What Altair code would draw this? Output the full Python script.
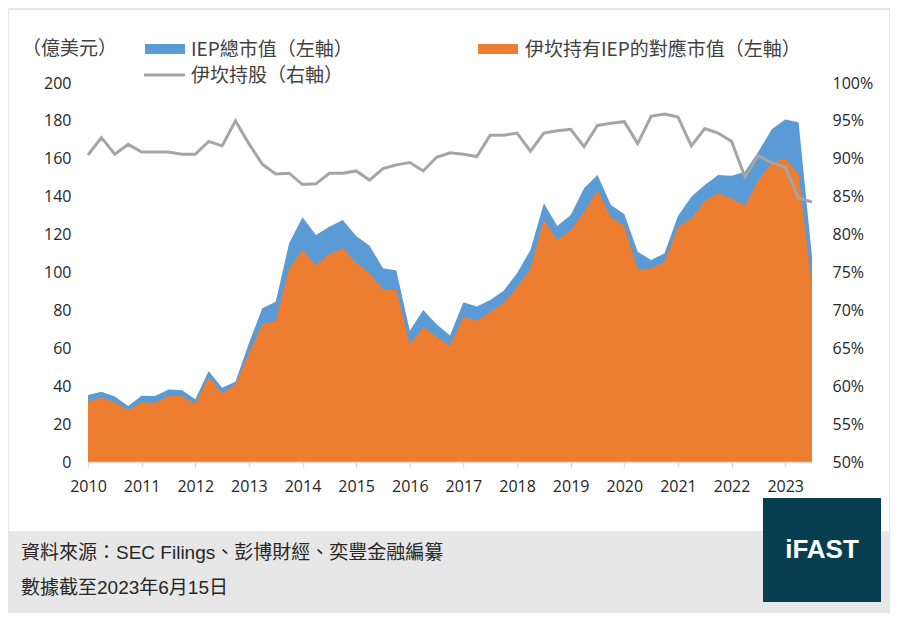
import altair as alt
import pandas as pd

# IEP total market cap (US$ bn, left axis)
total = [35.4, 37.1, 34.5, 29.6, 35.0, 34.8, 38.3, 38.0, 33.1, 48.0,
         39.2, 42.4, 62.6, 81.1, 84.6, 115.4, 129.1, 119.8, 124.2, 127.7,
         119.3, 114.1, 102.2, 101.0, 69.3, 80.2, 72.7, 66.8, 84.3, 82.0,
         85.5, 90.4, 99.6, 111.9, 136.5, 124.5, 130.3, 144.4, 151.5, 135.6,
         130.9, 111.0, 106.6, 110.1, 129.8, 140.0, 146.2, 151.5, 151.1, 153.2,
         163.7, 175.6, 180.8, 179.3, 108.3]
# Icahn's share of IEP market cap (US$ bn, left axis)
held = [31.8, 34.1, 31.5, 27.4, 31.5, 31.3, 34.8, 34.8, 30.6, 45.0,
        36.2, 41.2, 57.4, 72.7, 74.6, 102.2, 111.9, 104.0, 109.8, 112.8,
        105.2, 99.6, 91.1, 90.8, 62.1, 71.4, 66.1, 61.5, 76.7, 74.6,
        79.3, 84.1, 92.2, 102.2, 127.7, 117.2, 122.4, 132.1, 143.5, 129.1,
        124.7, 101.7, 102.2, 105.7, 124.2, 128.6, 137.9, 141.8, 139.2, 135.3,
        148.8, 157.9, 160.3, 151.8, 92.5]
# Icahn ownership (%, right axis)
pct = [90.5, 92.8, 90.6, 91.9, 90.9, 90.9, 90.9, 90.6, 90.6, 92.3,
       91.7, 95.0, 92.0, 89.3, 88.0, 88.1, 86.6, 86.7, 88.1, 88.1,
       88.4, 87.2, 88.7, 89.2, 89.5, 88.4, 90.2, 90.8, 90.6, 90.3,
       93.1, 93.1, 93.4, 91.0, 93.4, 93.7, 93.9, 91.6, 94.4, 94.7,
       94.9, 92.0, 95.6, 95.9, 95.5, 91.7, 94.0, 93.4, 92.3, 87.6,
       90.4, 89.5, 88.9, 84.8, 84.3]
years = list(range(2010, 2024))
left_ticks = list(range(0, 201, 20))
right_ticks = [0.50, 0.55, 0.60, 0.65, 0.70, 0.75, 0.80, 0.85, 0.90, 0.95, 1.00]

t = [2010 + i / 4 for i in range(len(total))]
df = pd.DataFrame({"t": t, "total": total, "held": held,
                   "pct": [p / 100 for p in pct]})

BLUE = "#5b9bd5"
ORANGE = "#ed7d31"
GRAY = "#a5a5a5"
LBL = "#262626"
FONT = "Open Sans"
CJK = "Noto Sans CJK TC"
MIX = "Liberation Sans, Noto Sans CJK TC"

W, H = 724, 379

xenc = alt.X("t:Q",
             scale=alt.Scale(domain=[2010, 2023.5], nice=False, zero=False),
             axis=alt.Axis(values=years, format="d", title=None, grid=False,
                           domainColor="#d9d9d9", domainWidth=1.5,
                           tickColor="#d9d9d9", tickSize=5, tickWidth=1.5,
                           labelPadding=11, labelFlush=False, labelOverlap=False,
                           labelFont=FONT, labelFontSize=16, labelColor=LBL,
                           zindex=1))

yleft = alt.Scale(domain=[0, 200], nice=False)
leftaxis = alt.Axis(values=left_ticks, title=None, grid=False, domain=False,
                    ticks=False, labelPadding=17, labelFont=FONT,
                    labelFontSize=16, labelColor=LBL)

base = alt.Chart(df)
blue = base.mark_area(color=BLUE, opacity=1).encode(
    x=xenc, y=alt.Y("total:Q", scale=yleft, axis=leftaxis))
orange = base.mark_area(color=ORANGE, opacity=1).encode(
    x=xenc, y=alt.Y("held:Q", scale=yleft, axis=leftaxis))
areas = alt.layer(blue, orange)

line = base.mark_line(color=GRAY, strokeWidth=3).encode(
    x=xenc,
    y=alt.Y("pct:Q", scale=alt.Scale(domain=[0.5, 1.0], nice=False, zero=False),
            axis=alt.Axis(orient="right", values=right_ticks, format=".0%",
                          title=None, grid=False, domain=False, ticks=False,
                          labelPadding=20, labelFont=FONT, labelFontSize=16,
                          labelColor=LBL)))

dummy = alt.Chart(alt.Data(values=[{"a": 1}]))


def rect(x, x2, y, y2, **kw):
    return dummy.mark_rect(**kw).encode(x=alt.value(x), x2=alt.value(x2),
                                        y=alt.value(y), y2=alt.value(y2))


def text(x, y, s, **kw):
    return dummy.mark_text(**kw).encode(x=alt.value(x), y=alt.value(y),
                                        text=alt.value(s))


panel = rect(-80, 802, -74, 530, fill="transparent", stroke="#e6e6e6",
             strokeWidth=2)
footer = rect(-79, 801, 448, 529, fill="#e7e7e7")
logo_box = rect(675, 793, 415, 519, fill="#073f51")
logo_txt = text(734, 467, "iFAST", align="center", baseline="middle",
                font="Liberation Sans", fontWeight="bold", fontSize=26,
                color="white")

unit = text(-66, -34, "（億美元）", align="left", baseline="middle",
            font=CJK, fontSize=19, color="#404040")

leg_blue = rect(57, 97, -39, -29, fill=BLUE)
leg_blue_t = text(103, -33, "IEP總市值（左軸）", align="left",
                  baseline="middle", font=CJK, fontSize=19, color="#404040")
leg_gray = dummy.mark_rule(color=GRAY, strokeWidth=3).encode(
    x=alt.value(56), x2=alt.value(97), y=alt.value(-8))
leg_gray_t = text(103, -7, "伊坎持股（右軸）", align="left",
                  baseline="middle", font=CJK, fontSize=19, color="#404040")
leg_orange = rect(390, 430, -39, -29, fill=ORANGE)
leg_orange_t = text(437, -33, "伊坎持有IEP的對應市值（左軸）", align="left",
                    baseline="middle", font=CJK, fontSize=19, color="#404040")

src1 = text(-67, 470, "資料來源：SEC Filings、彭博財經、奕豐金融編纂",
            align="left", baseline="middle", font=MIX, fontSize=19,
            color="#262626")
src2 = text(-67, 505, "數據截至2023年6月15日", align="left",
            baseline="middle", font=MIX, fontSize=19, color="#262626")

chart = alt.layer(
    panel, footer, areas, line,
    unit, leg_blue, leg_blue_t, leg_gray, leg_gray_t, leg_orange, leg_orange_t,
    src1, src2, logo_box, logo_txt
).resolve_scale(y="independent").properties(
    width=W, height=H,
    autosize=alt.AutoSizeParams(type="none"),
    padding={"left": 80, "top": 75, "right": 78, "bottom": 151},
    background="white",
).configure_view(stroke=None)

chart.save("out.html", embed_options={"renderer": "svg", "actions": False})
